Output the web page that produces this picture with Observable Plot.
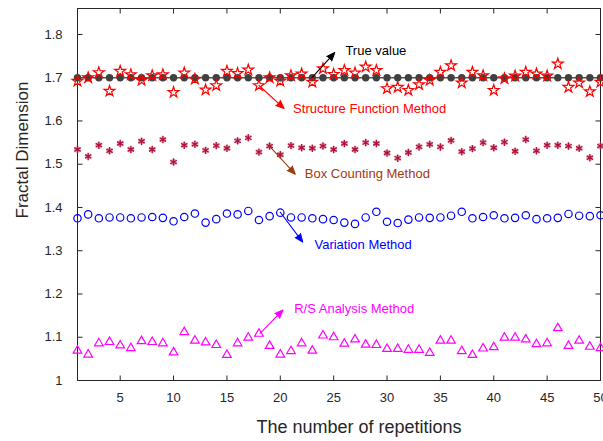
<!DOCTYPE html>
<html>
<head>
<meta charset="utf-8">
<script src="https://cdn.jsdelivr.net/npm/d3@7"></script>
<script src="https://cdn.jsdelivr.net/npm/@observablehq/plot@0.6"></script>
<style>
  html, body { margin: 0; padding: 0; background: #fff; }
  #chart svg { display: block; }
</style>
</head>
<body>
<div id="chart"></div>
<script>
const reps = d3.range(1, 51);
const trueValue = 1.7;
const structureFn = [1.692,1.700,1.712,1.669,1.715,1.707,1.694,1.705,1.707,1.666,
  1.711,1.697,1.672,1.682,1.715,1.710,1.718,1.682,1.700,1.692,
  1.705,1.709,1.690,1.721,1.708,1.717,1.711,1.725,1.717,1.675,
  1.678,1.671,1.684,1.694,1.713,1.728,1.688,1.713,1.705,1.671,
  1.698,1.704,1.713,1.709,1.704,1.732,1.678,1.688,1.668,1.690];
const boxCounting = [1.534,1.518,1.544,1.531,1.548,1.534,1.553,1.534,1.557,1.505,
  1.544,1.546,1.532,1.543,1.537,1.554,1.561,1.528,1.542,1.522,
  1.543,1.538,1.537,1.542,1.534,1.548,1.534,1.550,1.548,1.526,
  1.514,1.527,1.540,1.546,1.540,1.555,1.529,1.536,1.550,1.538,
  1.551,1.530,1.557,1.531,1.544,1.544,1.542,1.537,1.515,1.542];
const variation = [1.375,1.384,1.375,1.377,1.377,1.375,1.377,1.378,1.376,1.368,
  1.378,1.386,1.365,1.373,1.386,1.384,1.392,1.371,1.380,1.388,
  1.377,1.377,1.375,1.373,1.371,1.365,1.362,1.377,1.390,1.367,
  1.364,1.372,1.377,1.376,1.377,1.381,1.390,1.375,1.378,1.382,
  1.375,1.376,1.382,1.373,1.375,1.376,1.385,1.381,1.380,1.382];
const rsAnalysis = [1.069,1.060,1.086,1.089,1.081,1.075,1.091,1.089,1.086,1.065,
  1.112,1.092,1.088,1.082,1.059,1.086,1.099,1.108,1.080,1.060,
  1.068,1.086,1.069,1.104,1.100,1.085,1.095,1.083,1.082,1.073,
  1.073,1.071,1.071,1.064,1.092,1.092,1.068,1.059,1.074,1.077,
  1.099,1.099,1.095,1.084,1.086,1.121,1.080,1.092,1.078,1.075];
const xTicks = [5,10,15,20,25,30,35,40,45,50];
const yTicks = [1,1.1,1.2,1.3,1.4,1.5,1.6,1.7,1.8];
const yTickLabels = ["1","1.1","1.2","1.3","1.4","1.5","1.6","1.7","1.8"];
const xDomain = [1, 50];
const yDomain = [1, 1.86];

// annotation labels: arrow start, arrow end, text position (data units), colour
const annLabels = ["True value","Structure Function Method","Box Counting Method","Variation Method","R/S Analysis Method"];
const annColors = ["#000000","#ff0000","#a33a0c","#0000ff","#ff00ff"];
const annFromX = [22.97, 18.0, 19.0, 20.0, 18.1];
const annFromY = [1.700, 1.682, 1.541, 1.389, 1.109];
const annToX = [25.1, 20.35, 21.4, 22.1, 20.25];
const annToY = [1.758, 1.629, 1.477, 1.320, 1.163];
const annTextX = [26.1, 21.2, 22.3, 23.2, 21.3];
const annTextY = [1.763, 1.627, 1.477, 1.313, 1.165];

const ann = annLabels.map((label, i) => ({
  label, color: annColors[i],
  x1: annFromX[i], y1: annFromY[i], x2: annToX[i], y2: annToY[i],
  tx: annTextX[i], ty: annTextY[i]
}));

const series = (vals) => reps.map((r, i) => ({x: r, y: vals[i]}));
const trueData = reps.map(r => ({x: r, y: trueValue}));

// inward tick symbols (5px line in a given direction)
const tickSym = (dx, dy) => ({draw(ctx) { ctx.moveTo(0, 0); ctx.lineTo(dx, dy); }});

const axisColor = "#262626";
const font = "Liberation Sans, Arial, Helvetica, sans-serif";

const plot = Plot.plot({
  width: 603,
  height: 441,
  marginLeft: 77,
  marginRight: 3,
  marginTop: 8,
  marginBottom: 61,
  style: {fontFamily: font, background: "#fff", color: axisColor},
  x: {domain: xDomain},
  y: {domain: yDomain},
  marks: [
    Plot.frame({stroke: axisColor, strokeWidth: 1}),
    Plot.axisX(xTicks, {anchor: "bottom", tickSize: 0, tickPadding: 12, fontSize: 13, label: null}),
    Plot.axisY(yTicks, {anchor: "left", tickSize: 0, tickPadding: 15, fontSize: 13, label: null,
      tickFormat: (d) => yTickLabels[yTicks.indexOf(d)]}),
    Plot.dot(xTicks, {x: d => d, y: () => yDomain[0], symbol: tickSym(0, -5), stroke: axisColor, strokeWidth: 1}),
    Plot.dot(xTicks, {x: d => d, y: () => yDomain[1], symbol: tickSym(0, 5), stroke: axisColor, strokeWidth: 1}),
    Plot.dot(yTicks, {x: () => xDomain[0], y: d => d, symbol: tickSym(5, 0), stroke: axisColor, strokeWidth: 1}),
    Plot.dot(yTicks, {x: () => xDomain[1], y: d => d, symbol: tickSym(-5, 0), stroke: axisColor, strokeWidth: 1}),
    Plot.text(["The number of repetitions"], {frameAnchor: "bottom", dx: 20, dy: 52, fontSize: 18, fill: axisColor}),
    Plot.text(["Fractal Dimension"], {frameAnchor: "left", dx: -55, dy: 24, rotate: -90, fontSize: 17, fill: axisColor}),
    // R/S
    Plot.dot(series(rsAnalysis), {x: "x", y: "y", symbol: "triangle", r: 3.2, stroke: "#ff00ff", strokeWidth: 1.2, fill: "none"}),
    // Variation
    Plot.dot(series(variation), {x: "x", y: "y", symbol: "circle", r: 3.7, stroke: "#0000ff", strokeWidth: 1.2, fill: "none"}),
    // Box counting
    Plot.dot(series(boxCounting), {x: "x", y: "y", symbol: "circle", r: 3.3, fill: "#eab0c0", stroke: "none"}),
    Plot.dot(series(boxCounting), {x: "x", y: "y", symbol: "asterisk", r: 3.5, stroke: "#b0123b", strokeWidth: 1.3}),
    // True value
    Plot.line(trueData, {x: "x", y: "y", stroke: "#555555", strokeWidth: 1.5}),
    Plot.dot(trueData, {x: "x", y: "y", r: 3.7, fill: "#404040", stroke: "none"}),
    // Structure function
    Plot.dot(series(structureFn), {x: "x", y: "y", symbol: "star", r: 3.4, stroke: "#ff0000", strokeWidth: 1.2, fill: "none"}),
    // annotations
    Plot.arrow(ann, {x1: "x1", y1: "y1", x2: "x2", y2: "y2", stroke: "color", fill: "color", strokeWidth: 1.1, headLength: 12, headAngle: 45}),
    Plot.text(ann, {x: "tx", y: "ty", text: "label", fill: "color", textAnchor: "start", fontSize: 13})
  ]
});
document.getElementById("chart").appendChild(plot);
</script>
</body>
</html>
